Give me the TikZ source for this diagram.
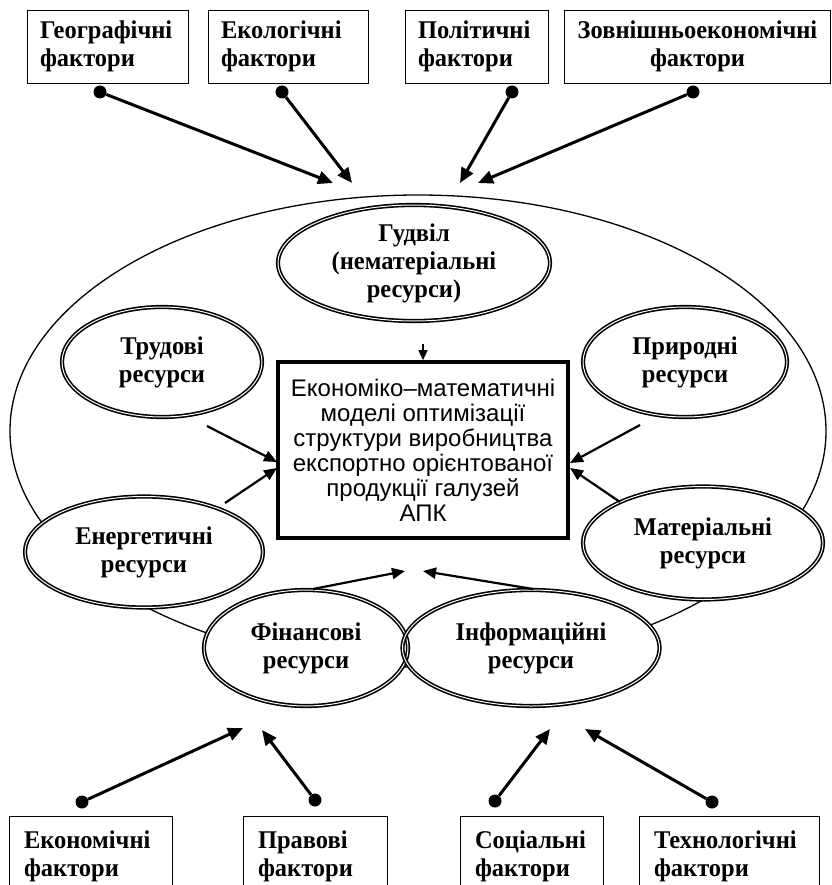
\documentclass[tikz,border=0pt]{standalone}
\usepackage{fontspec}
\setmainfont{Liberation Serif}
\newfontfamily\arialfont{Liberation Sans}
\newfontfamily\vuzkyi{Liberation Serif}[FakeStretch=0.96]
\usetikzlibrary{arrows.meta,shapes.geometric,calc}
\pgfdeclarelayer{background}
\pgfdeclarelayer{middle}
\pgfsetlayers{background,middle,main}

\tikzset{
  faktor/.style={draw, line width=0.9pt, rectangle, minimum height=73pt, inner xsep=13pt, align=left, font=\vuzkyi\fontsize{25.5}{28}\selectfont\bfseries},
  nfaktor/.style={faktor, anchor=north, minimum height=80pt, inner xsep=15pt},
  resurs/.style={ellipse, draw, double, double distance=1pt, line width=1.6pt, inner sep=0pt, align=center, font=\vuzkyi\fontsize{25.5}{28}\selectfont\bfseries},
  tochka/.style={circle, fill, inner sep=0pt, minimum size=13pt},
  vplyv/.style={line width=3pt, -{Triangle[length=15pt,width=13pt]}},
  strilka/.style={line width=2.2pt, -{Triangle[length=13pt,width=11pt]}},
}

\begin{document}
\begin{tikzpicture}[x=1pt,y=-1pt]
		\useasboundingbox (0,0) rectangle (831,885);
		
		%%%%% фактори зверху %%%%%
		\node[faktor, minimum width=161pt, text width=135pt] (geo) at (107.5,46.5) {Географічні\\фактори};
		\node[faktor, minimum width=160pt, text width=134pt] (eko) at (288,46.5) {Екологічні\\фактори};
		\node[faktor, minimum width=143pt, text width=117pt] (pol) at (476.5,46.5) {Політичні\\фактори};
		\node[faktor, minimum width=261pt, align=center] (zovn) at (697.5,46.5) {Зовнішньоекономічні\\фактори};
		
		\node[tochka] (geod) at (100,92) {};
		\node[tochka] (ekod) at (282,92) {};
		\node[tochka] (pold) at (512,92) {};
		\node[tochka] (zovnd) at (693,92) {};
		\coordinate (geot) at (333,183);
		\coordinate (ekot) at (352,183);
		\coordinate (polt) at (460,183);
		\coordinate (zovnt) at (478,183);
		
		\draw[vplyv] (geod) -- (geot);
		\draw[vplyv] (ekod) -- (ekot);
		\draw[vplyv] (pold) -- (polt);
		\draw[vplyv] (zovnd) -- (zovnt);
		
		%%%%% ресурси %%%%%
		\node[resurs, minimum width=272pt, minimum height=116pt] (gudvil) at (414,263) {Гудвіл\\(нематеріальні\\ресурси)};
		\node[resurs, minimum width=200pt, minimum height=110pt] (trud) at (162,362) {Трудові\\ресурси};
		\node[resurs, minimum width=204pt, minimum height=110pt] (pryr) at (685,362) {Природні\\ресурси};
		\node[resurs, minimum width=238pt, minimum height=111pt] (energ) at (144,552) {Енергетичні\\ресурси};
		\node[resurs, minimum width=240pt, minimum height=113pt] (mater) at (703,543) {Матеріальні\\ресурси};
		\node[resurs, minimum width=204pt, minimum height=116pt] (fin) at (306,648) {Фінансові\\ресурси};
		\node[resurs, minimum width=257pt, minimum height=116pt] (info) at (531,648) {Інформаційні\\ресурси};
		
		\node[draw, line width=3.7pt, minimum width=290pt, minimum height=176pt, align=center, font=\arialfont\fontsize{24}{25}\selectfont] (model) at (423,450)
		{Економіко–математичні\\моделі оптимізації\\структури виробництва\\експортно орієнтованої\\продукції галузей\\АПК};
		
		\begin{pgfonlayer}{background}
			\draw[line width=1.3pt] (418,431) ellipse (408 and 236);
		\end{pgfonlayer}
		\begin{pgfonlayer}{middle}
			\foreach \r in {gudvil,trud,pryr,energ,mater,fin,info}
				\fill[white] let \p1=(\r.center), \p2=(\r.east), \p3=(\r.north) in (\p1) ellipse ({\x2-\x1} and {\y3-\y1});
		\end{pgfonlayer}
		
		\coordinate (gud0) at (423,344);
		\coordinate (trud0) at (207,426);
		\coordinate (trud1) at (277,462);
		\coordinate (energ0) at (225,503);
		\coordinate (energ1) at (277,468);
		\coordinate (pryr0) at (640,425);
		\coordinate (pryr1) at (570,463);
		\coordinate (mater0) at (620,502);
		\coordinate (mater1) at (570,468);
		\coordinate (fin0) at (313,589);
		\coordinate (fin1) at (405,571);
		\coordinate (info0) at (533,589);
		\coordinate (info1) at (423,571);
		
		\draw[line width=1.6pt, -{Triangle[length=10pt,width=9pt]}] (gud0) -- (model.north);
		\draw[strilka] (trud0) -- (trud1);
		\draw[strilka] (energ0) -- (energ1);
		\draw[strilka] (pryr0) -- (pryr1);
		\draw[strilka] (mater0) -- (mater1);
		\draw[strilka] (fin0) -- (fin1);
		\draw[strilka] (info0) -- (info1);
		
		%%%%% фактори знизу %%%%%
		\node[nfaktor, minimum width=163pt, text width=133pt] (ekon) at (90.5,816) {Економічні\\фактори};
		\node[nfaktor, minimum width=144pt, text width=114pt] (prav) at (315,816) {Правові\\фактори};
		\node[nfaktor, minimum width=143pt, text width=113pt] (soc) at (531.5,816) {Соціальні\\фактори};
		\node[nfaktor, minimum width=180pt, text width=150pt] (tech) at (729,816) {Технологічні\\фактори};
		
		\node[tochka] (ekond) at (82,802) {};
		\node[tochka] (pravd) at (315,800) {};
		\node[tochka] (socd) at (495,801) {};
		\node[tochka] (techd) at (712,802) {};
		\coordinate (ekont) at (243,728);
		\coordinate (pravt) at (262,730);
		\coordinate (soct) at (550,729);
		\coordinate (techt) at (585,729);
		
		\draw[vplyv] (ekond) -- (ekont);
		\draw[vplyv] (pravd) -- (pravt);
		\draw[vplyv] (socd) -- (soct);
		\draw[vplyv] (techd) -- (techt);
		
		%%%%% END %%%%%
\end{tikzpicture}
\end{document}
